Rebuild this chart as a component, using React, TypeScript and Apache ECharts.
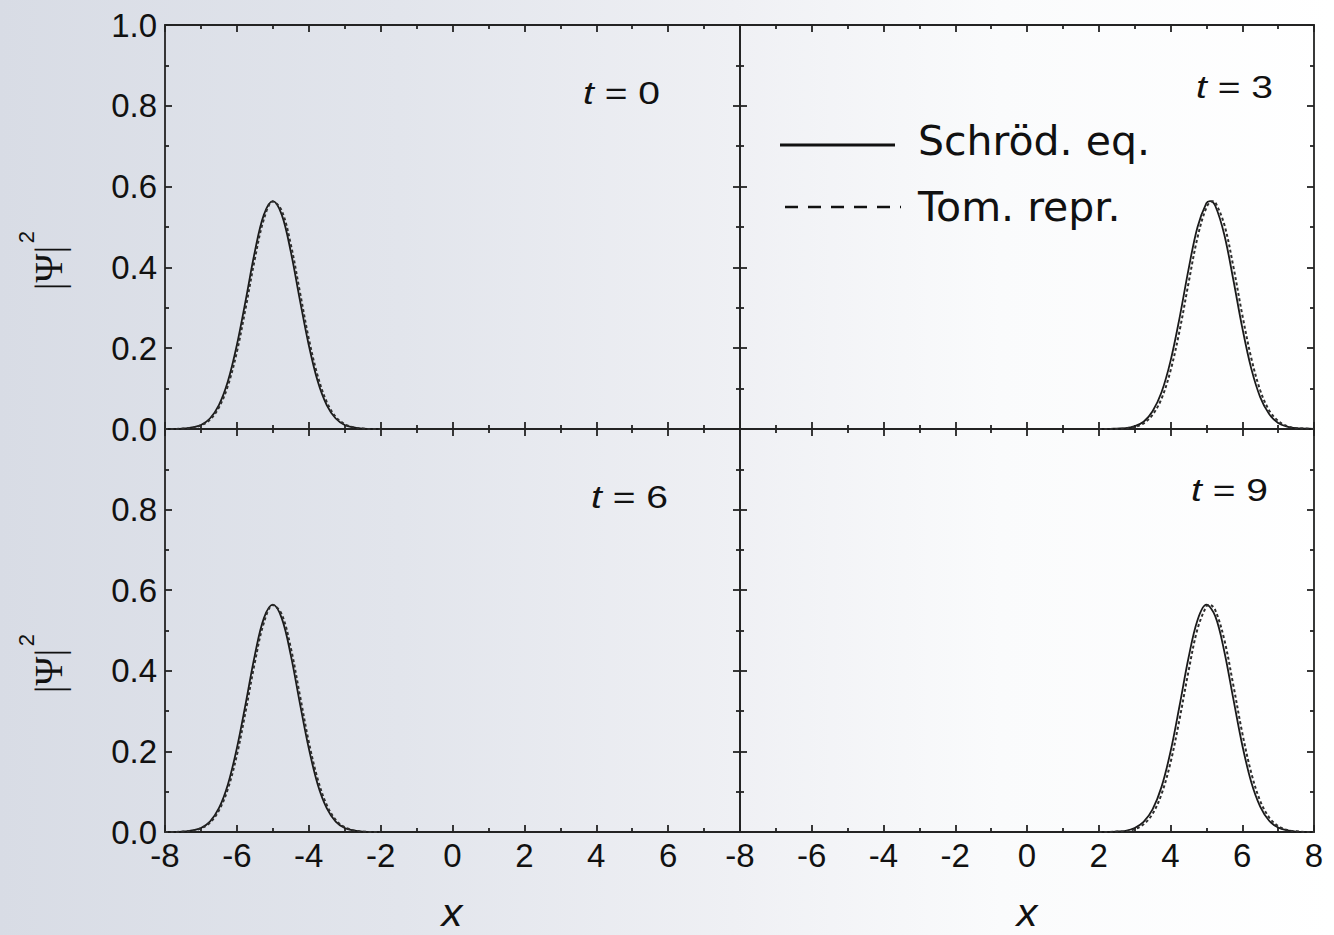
import React, { useEffect, useRef } from "react";
import * as echarts from "echarts";

// ---- Data ----
// t = 0 and t = 6 (left panels): packet centred near x = -5
const leftX = [-8, -7.75, -7.5, -7.25, -7, -6.75, -6.5, -6.25, -6, -5.75, -5.5, -5.25, -5, -4.75, -4.5, -4.25, -4, -3.75, -3.5, -3.25, -3, -2.75, -2.5, -2.25, -2];
const t0SolidY = [0, 0, 0.001, 0.004, 0.01, 0.026, 0.059, 0.118, 0.208, 0.321, 0.439, 0.53, 0.564, 0.53, 0.439, 0.321, 0.208, 0.118, 0.059, 0.026, 0.01, 0.004, 0.001, 0, 0];
const t0DashedY = [0, 0, 0.001, 0.003, 0.009, 0.023, 0.053, 0.107, 0.191, 0.302, 0.421, 0.519, 0.563, 0.54, 0.457, 0.341, 0.224, 0.131, 0.067, 0.03, 0.012, 0.004, 0.001, 0, 0];
const t6SolidY = [0, 0, 0.001, 0.004, 0.01, 0.026, 0.059, 0.118, 0.208, 0.321, 0.439, 0.53, 0.564, 0.53, 0.439, 0.321, 0.208, 0.118, 0.059, 0.026, 0.01, 0.004, 0.001, 0, 0];
const t6DashedY = [0, 0, 0.001, 0.003, 0.009, 0.023, 0.053, 0.107, 0.191, 0.302, 0.421, 0.519, 0.563, 0.54, 0.457, 0.341, 0.224, 0.131, 0.067, 0.03, 0.012, 0.004, 0.001, 0, 0];

// t = 3 (top right)
const t3SolidX = [2, 2.25, 2.5, 2.75, 3, 3.25, 3.5, 3.75, 4, 4.25, 4.5, 4.75, 5, 5.1, 5.25, 5.5, 5.75, 6, 6.25, 6.5, 6.75, 7, 7.25, 7.5, 7.75, 8];
const t3SolidY = [0, 0, 0.001, 0.002, 0.007, 0.018, 0.044, 0.091, 0.168, 0.274, 0.394, 0.499, 0.559, 0.564, 0.552, 0.481, 0.37, 0.251, 0.15, 0.079, 0.037, 0.015, 0.006, 0.002, 0.001, 0];
const t3DashedX = [2, 2.25, 2.5, 2.75, 3, 3.25, 3.5, 3.75, 4, 4.25, 4.5, 4.75, 5, 5.17, 5.25, 5.5, 5.75, 6, 6.25, 6.5, 6.75, 7, 7.25, 7.5, 7.75, 8];
const t3DashedY = [0, 0, 0, 0.002, 0.005, 0.014, 0.035, 0.075, 0.144, 0.242, 0.36, 0.473, 0.548, 0.564, 0.561, 0.506, 0.403, 0.283, 0.176, 0.096, 0.046, 0.02, 0.007, 0.002, 0.001, 0];

// t = 9 (bottom right)
const t9SolidX = [2, 2.25, 2.5, 2.75, 3, 3.25, 3.5, 3.75, 4, 4.25, 4.5, 4.75, 5, 5.25, 5.5, 5.75, 6, 6.25, 6.5, 6.75, 7, 7.25, 7.5, 7.75, 8];
const t9SolidY = [0, 0, 0.001, 0.003, 0.01, 0.025, 0.056, 0.112, 0.199, 0.312, 0.431, 0.525, 0.564, 0.535, 0.448, 0.331, 0.216, 0.124, 0.063, 0.028, 0.011, 0.004, 0.001, 0, 0];
const t9DashedX = [2, 2.25, 2.5, 2.75, 3, 3.25, 3.5, 3.75, 4, 4.25, 4.5, 4.75, 5, 5.09, 5.25, 5.5, 5.75, 6, 6.25, 6.5, 6.75, 7, 7.25, 7.5, 7.75, 8];
const t9DashedY = [0, 0, 0.001, 0.002, 0.007, 0.019, 0.045, 0.094, 0.172, 0.279, 0.398, 0.503, 0.56, 0.564, 0.55, 0.477, 0.365, 0.246, 0.147, 0.077, 0.036, 0.015, 0.005, 0.002, 0, 0];

const panelLabels = ["0", "3", "6", "9"];
const legendNames = ["Schröd. eq.", "Tom. repr."];
const xRange = [-8, 8];
const yRange = [0, 1];

const zip = (xs: number[], ys: number[]) => xs.map((x, i) => [x, ys[i]]);

const INK = "#232323";
const SANS = "'Liberation Sans', Arial, Helvetica, sans-serif";

export default function App() {
  const ref = useRef<HTMLDivElement>(null);

  useEffect(() => {
    if (!ref.current) return;
    const chart = echarts.init(ref.current, null, { renderer: "svg" });

    const grids = [
      { left: 165, top: 25, width: 575, height: 404 },
      { left: 740, top: 25, width: 574, height: 404 },
      { left: 165, top: 429, width: 575, height: 403 },
      { left: 740, top: 429, width: 574, height: 403 },
    ];

    const lineStyle = { color: INK, width: 1.8 };
    const tickBase = {
      axisLine: { show: true, onZero: false, lineStyle },
      axisTick: { show: true, inside: true, length: 7, lineStyle },
      minorTick: { show: true, splitNumber: 2, length: 4, lineStyle },
      splitLine: { show: false },
      minorSplitLine: { show: false },
    };
    const labelStyle = { fontFamily: SANS, fontSize: 33, color: "#111" };

    const xAxes: any[] = [];
    const yAxes: any[] = [];
    grids.forEach((_, gi) => {
      const bottomRow = gi >= 2;
      const leftCol = gi % 2 === 0;
      xAxes.push({
        type: "value",
        gridIndex: gi,
        position: "bottom",
        min: xRange[0],
        max: xRange[1],
        interval: 2,
        ...tickBase,
        axisLabel: {
          show: bottomRow,
          margin: 7,
          showMaxLabel: !leftCol,
          showMinLabel: true,
          ...labelStyle,
        },
      });
      xAxes.push({
        type: "value",
        gridIndex: gi,
        position: "top",
        min: xRange[0],
        max: xRange[1],
        interval: 2,
        ...tickBase,
        axisLabel: { show: false },
      });
      yAxes.push({
        type: "value",
        gridIndex: gi,
        position: "left",
        min: yRange[0],
        max: yRange[1],
        interval: 0.2,
        ...tickBase,
        axisLabel: {
          show: leftCol,
          margin: 8,
          showMaxLabel: !bottomRow,
          showMinLabel: true,
          formatter: (v: number) => v.toFixed(1),
          ...labelStyle,
        },
      });
      yAxes.push({
        type: "value",
        gridIndex: gi,
        position: "right",
        min: yRange[0],
        max: yRange[1],
        interval: 0.2,
        ...tickBase,
        axisLabel: { show: false },
      });
    });

    const curves = [
      { gi: 0, data: zip(leftX, t0SolidY), dashed: false },
      { gi: 0, data: zip(leftX, t0DashedY), dashed: true },
      { gi: 1, data: zip(t3SolidX, t3SolidY), dashed: false },
      { gi: 1, data: zip(t3DashedX, t3DashedY), dashed: true },
      { gi: 2, data: zip(leftX, t6SolidY), dashed: false },
      { gi: 2, data: zip(leftX, t6DashedY), dashed: true },
      { gi: 3, data: zip(t9SolidX, t9SolidY), dashed: false },
      { gi: 3, data: zip(t9DashedX, t9DashedY), dashed: true },
    ];

    const series = curves.map((c) => ({
      type: "line",
      xAxisIndex: c.gi * 2,
      yAxisIndex: c.gi * 2,
      data: c.data,
      showSymbol: false,
      smooth: 0.35,
      name: c.dashed ? legendNames[1] : legendNames[0],
      lineStyle: c.dashed
        ? { color: "#2e2e2e", width: 2, type: [3, 2.5] }
        : { color: "#1a1a1a", width: 1.8, type: "solid" },
      z: c.dashed ? 3 : 2,
    }));

    const tPos = [
      { right: 660, y: 93 },
      { right: 1273, y: 87 },
      { right: 668, y: 497 },
      { right: 1268, y: 490 },
    ];

    const graphic: any[] = [];
    tPos.forEach((p, i) => {
      graphic.push({
        type: "text",
        x: p.right,
        y: p.y,
        scaleX: 1.22,
        style: {
          text: "{t|t} = " + panelLabels[i],
          align: "right",
          verticalAlign: "middle",
          fontFamily: SANS,
          fontSize: 32,
          fill: "#111",
          rich: { t: { fontStyle: "italic", fontFamily: SANS, fontSize: 32, fill: "#111" } },
        },
      });
    });

    // y-axis titles |Ψ|²
    [261, 664].forEach((cy) => {
      graphic.push({
        type: "group",
        x: 48,
        y: cy,
        rotation: Math.PI / 2,
        children: [
          {
            type: "text",
            x: -7,
            y: 0,
            style: {
              text: "|Ψ|",
              align: "center",
              verticalAlign: "middle",
              fontFamily: "'Liberation Serif', 'Times New Roman', serif",
              fontSize: 39,
              fill: "#111",
            },
          },
          {
            type: "text",
            x: 24,
            y: -22,
            style: {
              text: "2",
              align: "center",
              verticalAlign: "middle",
              fontFamily: SANS,
              fontSize: 22,
              fill: "#111",
            },
          },
        ],
      });
    });

    // x-axis titles
    [452, 1027].forEach((cx) => {
      graphic.push({
        type: "text",
        x: cx,
        y: 913,
        scaleX: 1.1,
        style: {
          text: "x",
          align: "center",
          verticalAlign: "middle",
          fontFamily: SANS,
          fontStyle: "italic",
          fontSize: 38,
          lineHeight: 38,
          fill: "#111",
        },
      });
    });

    // legend
    graphic.push({
      type: "line",
      shape: { x1: 780, y1: 145, x2: 895, y2: 145 },
      style: { stroke: "#111", lineWidth: 3 },
    });
    graphic.push({
      type: "line",
      shape: { x1: 785, y1: 207, x2: 901, y2: 207 },
      style: { stroke: "#111", lineWidth: 2.5, lineDash: [13, 10] },
    });
    graphic.push({
      type: "text",
      x: 918,
      y: 141,
      style: {
        text: legendNames[0],
        align: "left",
        verticalAlign: "middle",
        fontFamily: "'DejaVu Sans', Verdana, sans-serif",
        fontSize: 41,
        fill: "#111",
      },
    });
    graphic.push({
      type: "text",
      x: 918,
      y: 207,
      style: {
        text: legendNames[1],
        align: "left",
        verticalAlign: "middle",
        fontFamily: "'DejaVu Sans', Verdana, sans-serif",
        fontSize: 41,
        fill: "#111",
      },
    });

    chart.setOption({
      animation: false,
      backgroundColor: new echarts.graphic.LinearGradient(0, 0, 1, 0, [
        { offset: 0, color: "#d8dce5" },
        { offset: 0.3, color: "#e2e5ec" },
        { offset: 0.55, color: "#eff0f4" },
        { offset: 0.75, color: "#fafbfc" },
        { offset: 1, color: "#ffffff" },
      ]),
      grid: grids,
      xAxis: xAxes,
      yAxis: yAxes,
      series,
      graphic,
    });

    return () => chart.dispose();
  }, []);

  return (
    <div
      ref={ref}
      style={{ position: "absolute", left: 0, top: 0, width: 1334, height: 935 }}
    />
  );
}
